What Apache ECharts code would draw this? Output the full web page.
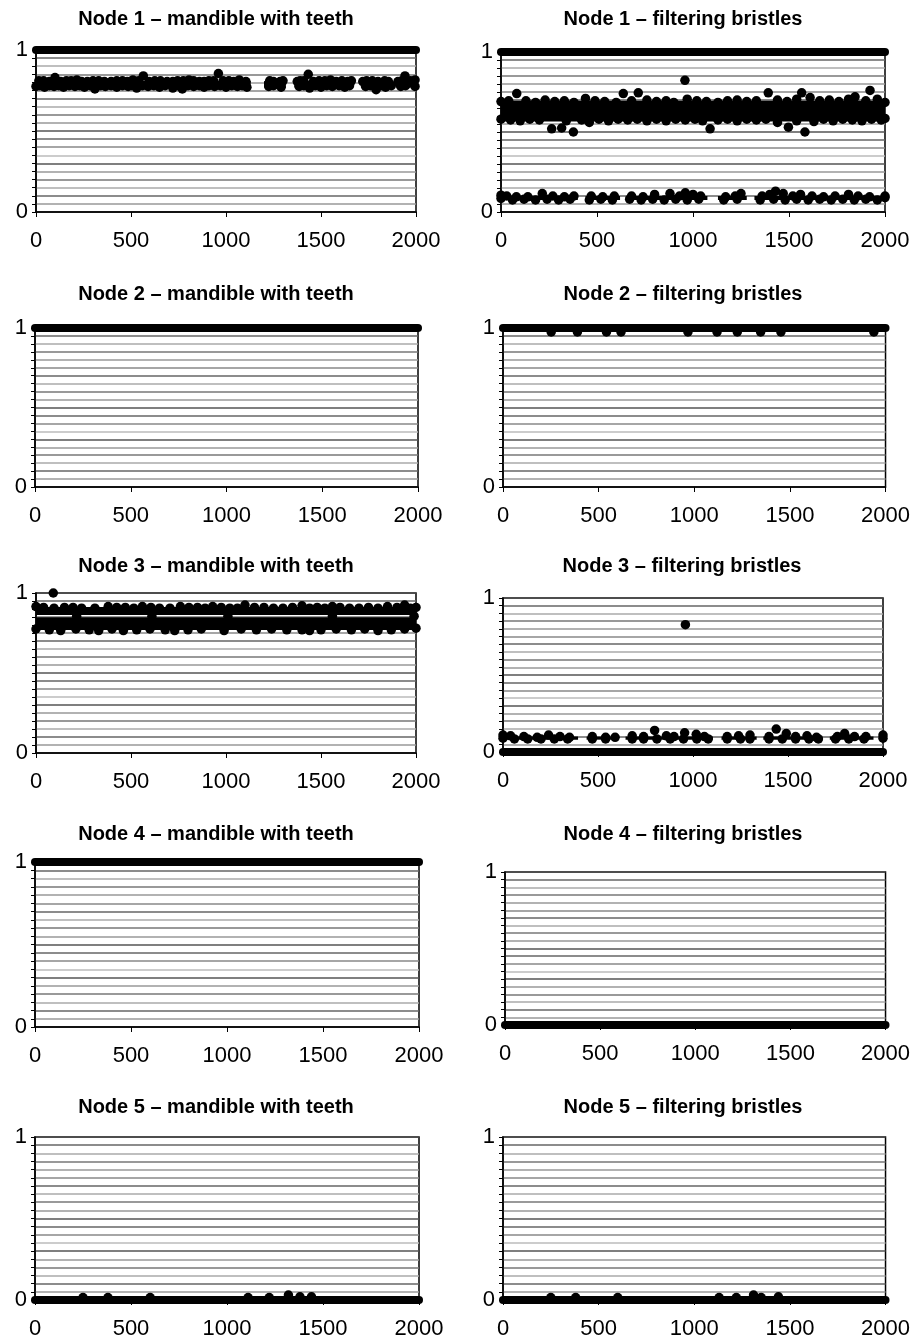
<!DOCTYPE html>
<html>
<head>
<meta charset="utf-8">
<title>Node charts</title>
<script src="https://cdn.jsdelivr.net/npm/echarts@6/dist/echarts.min.js"></script>
<style>
	html, body { margin: 0; padding: 0; background: #fff; }
	#nodeCharts { width: 913px; height: 1341px; }
</style>
</head>
<body>
<div id="nodeCharts"></div>
<script>
// 刻度
var xMin = 0, xMax = 2000, xStep = 500;
var yTickLabels = ['0', '1'];

// 标题
var titles = [
	'Node 1 – mandible with teeth', 'Node 1 – filtering bristles',
	'Node 2 – mandible with teeth', 'Node 2 – filtering bristles',
	'Node 3 – mandible with teeth', 'Node 3 – filtering bristles',
	'Node 4 – mandible with teeth', 'Node 4 – filtering bristles',
	'Node 5 – mandible with teeth', 'Node 5 – filtering bristles'
];

// rows: [xStart, xEnd, y] unbroken runs of points at one value
// bands: [xStart, xEnd, yLow, yHigh] solid cores of dense point clouds
// points: [x, y] single points / band fringes

// Node 1 – mandible with teeth
var n1MandRows = [[0, 2000, 1]];
var n1MandBands = [[0, 1130, 0.768, 0.808], [1200, 1315, 0.768, 0.808], [1360, 1665, 0.768, 0.808],
	[1710, 1860, 0.768, 0.808], [1895, 2000, 0.768, 0.808]];
var n1MandPoints = [
	[15, 0.81], [40, 0.81], [70, 0.805], [100, 0.83], [130, 0.805], [160, 0.81], [185, 0.81], [215, 0.815],
	[240, 0.805], [270, 0.805], [300, 0.81], [330, 0.81], [360, 0.805], [395, 0.805], [425, 0.81], [455, 0.81],
	[480, 0.805], [510, 0.815], [540, 0.81], [565, 0.84], [595, 0.805], [625, 0.81], [655, 0.81], [690, 0.805],
	[720, 0.805], [745, 0.81], [775, 0.81], [805, 0.815], [830, 0.81], [860, 0.805], [885, 0.805], [910, 0.81],
	[935, 0.81], [960, 0.855], [985, 0.81], [1015, 0.81], [1040, 0.805], [1070, 0.815], [1105, 0.805],
	[1230, 0.81], [1250, 0.805], [1285, 0.805], [1300, 0.81], [1375, 0.805], [1390, 0.81], [1410, 0.81],
	[1433, 0.85], [1460, 0.805], [1490, 0.81], [1520, 0.81], [1550, 0.815], [1580, 0.805], [1610, 0.81],
	[1640, 0.805], [1660, 0.81], [1720, 0.805], [1740, 0.81], [1770, 0.81], [1800, 0.805], [1835, 0.81],
	[1855, 0.805], [1905, 0.805], [1925, 0.81], [1942, 0.84], [1970, 0.81], [1995, 0.815],
	[0, 0.775], [20, 0.78], [45, 0.77], [70, 0.78], [95, 0.775], [120, 0.78], [145, 0.77], [175, 0.78],
	[205, 0.775], [230, 0.78], [255, 0.77], [285, 0.78], [310, 0.76], [340, 0.78], [365, 0.775], [395, 0.78],
	[425, 0.77], [455, 0.78], [485, 0.775], [505, 0.78], [530, 0.765], [560, 0.78], [590, 0.775], [620, 0.78],
	[650, 0.77], [680, 0.78], [720, 0.765], [745, 0.78], [770, 0.76], [800, 0.78], [830, 0.775], [860, 0.78],
	[885, 0.77], [910, 0.78], [940, 0.775], [970, 0.78], [1000, 0.77], [1030, 0.78], [1060, 0.775], [1085, 0.78],
	[1110, 0.77], [1225, 0.775], [1250, 0.78], [1290, 0.77], [1385, 0.775], [1410, 0.78], [1440, 0.765],
	[1470, 0.78], [1500, 0.77], [1530, 0.78], [1560, 0.775], [1595, 0.78], [1625, 0.77], [1650, 0.78],
	[1735, 0.775], [1760, 0.78], [1790, 0.755], [1815, 0.78], [1840, 0.77], [1870, 0.78], [1920, 0.775],
	[1945, 0.78], [1995, 0.775]
];

// Node 1 – filtering bristles
var n1BristRows = [[0, 2000, 1]];
var n1BristBands = [[0, 2000, 0.565, 0.695],
	[0, 400, 0.075, 0.1], [440, 620, 0.075, 0.1], [650, 1075, 0.075, 0.1], [1130, 1280, 0.075, 0.1], [1320, 2000, 0.075, 0.1]];
var n1BristPoints = [
	[0, 0.69], [40, 0.695], [82, 0.74], [130, 0.695], [180, 0.685], [230, 0.7], [280, 0.69], [330, 0.695],
	[380, 0.685], [440, 0.71], [490, 0.695], [540, 0.69], [600, 0.685], [637, 0.74], [680, 0.695], [715, 0.745],
	[760, 0.7], [810, 0.69], [860, 0.695], [900, 0.685], [958, 0.823], [970, 0.705], [1020, 0.695], [1070, 0.69],
	[1130, 0.685], [1180, 0.695], [1230, 0.7], [1280, 0.69], [1330, 0.695], [1392, 0.745], [1440, 0.7],
	[1490, 0.69], [1540, 0.705], [1566, 0.745], [1610, 0.715], [1660, 0.695], [1710, 0.7], [1760, 0.69],
	[1810, 0.705], [1844, 0.72], [1900, 0.695], [1922, 0.76], [1960, 0.705], [2000, 0.685],
	[0, 0.58], [50, 0.575], [100, 0.57], [150, 0.58], [200, 0.575], [264, 0.52], [316, 0.525], [340, 0.57],
	[377, 0.5], [420, 0.575], [460, 0.56], [510, 0.58], [560, 0.57], [610, 0.58], [660, 0.575], [710, 0.58],
	[760, 0.57], [810, 0.58], [860, 0.57], [910, 0.58], [960, 0.575], [1010, 0.58], [1050, 0.57], [1089, 0.52],
	[1130, 0.575], [1180, 0.58], [1230, 0.57], [1280, 0.58], [1330, 0.575], [1380, 0.58], [1440, 0.56],
	[1497, 0.53], [1540, 0.57], [1583, 0.5], [1630, 0.565], [1680, 0.58], [1730, 0.57], [1780, 0.58],
	[1830, 0.575], [1880, 0.57], [1930, 0.58], [1980, 0.575], [2000, 0.585],
	[0, 0.105], [30, 0.1], [80, 0.095], [140, 0.095], [215, 0.115], [270, 0.1], [330, 0.095], [380, 0.1],
	[470, 0.1], [530, 0.095], [590, 0.1], [680, 0.1], [740, 0.095], [800, 0.11], [880, 0.115], [930, 0.1],
	[960, 0.12], [1000, 0.11], [1040, 0.1], [1170, 0.095], [1220, 0.1], [1250, 0.115], [1360, 0.1],
	[1400, 0.11], [1430, 0.13], [1470, 0.115], [1520, 0.1], [1560, 0.11], [1620, 0.1], [1680, 0.095],
	[1740, 0.1], [1810, 0.11], [1860, 0.1], [1920, 0.095], [2000, 0.1],
	[0, 0.085], [60, 0.075], [120, 0.08], [180, 0.075], [240, 0.08], [300, 0.075], [360, 0.08], [460, 0.075],
	[520, 0.08], [580, 0.075], [670, 0.08], [730, 0.075], [790, 0.08], [850, 0.075], [910, 0.08], [970, 0.075],
	[1030, 0.08], [1160, 0.075], [1230, 0.08], [1350, 0.075], [1420, 0.08], [1480, 0.075], [1540, 0.08],
	[1600, 0.075], [1660, 0.08], [1720, 0.075], [1780, 0.08], [1840, 0.075], [1900, 0.08], [1960, 0.075], [2000, 0.09]
];

// Node 2
var n2MandRows = [[0, 2000, 1]];
var n2BristRows = [[0, 2000, 1]];
var n2BristPoints = [[252, 0.975], [389, 0.975], [541, 0.975], [617, 0.975], [967, 0.975], [1119, 0.975],
	[1225, 0.975], [1347, 0.975], [1453, 0.975], [1939, 0.975]];

// Node 3 – mandible with teeth
var n3MandBands = [[0, 2000, 0.862, 0.912], [0, 2000, 0.768, 0.848]];
var n3MandPoints = [
	[0, 0.915], [40, 0.91], [91, 1.0], [95, 0.905], [150, 0.91], [195, 0.91], [240, 0.905], [310, 0.905],
	[380, 0.915], [425, 0.91], [470, 0.91], [515, 0.905], [560, 0.915], [605, 0.91], [650, 0.905], [705, 0.905],
	[760, 0.915], [805, 0.91], [850, 0.91], [890, 0.905], [930, 0.915], [975, 0.91], [1020, 0.905], [1060, 0.905],
	[1100, 0.925], [1150, 0.91], [1200, 0.91], [1250, 0.905], [1300, 0.905], [1350, 0.91], [1400, 0.92],
	[1440, 0.905], [1480, 0.91], [1520, 0.905], [1560, 0.915], [1600, 0.91], [1650, 0.905], [1700, 0.905],
	[1750, 0.91], [1800, 0.905], [1850, 0.915], [1900, 0.91], [1940, 0.925], [1970, 0.905], [2000, 0.91],
	[214, 0.855], [610, 0.855], [1010, 0.855], [1560, 0.855], [1990, 0.855],
	[0, 0.775], [70, 0.77], [130, 0.765], [210, 0.775], [280, 0.77], [330, 0.765], [400, 0.775], [460, 0.765],
	[530, 0.77], [600, 0.775], [680, 0.77], [730, 0.765], [800, 0.77], [870, 0.775], [990, 0.765], [1080, 0.775],
	[1160, 0.77], [1240, 0.775], [1320, 0.77], [1400, 0.77], [1440, 0.765], [1500, 0.77], [1580, 0.775],
	[1660, 0.77], [1730, 0.775], [1800, 0.765], [1870, 0.77], [1940, 0.775], [2000, 0.78]
];

// Node 3 – filtering bristles
var n3BristRows = [[0, 2000, 0]];
var n3BristBands = [[0, 395, 0.08, 0.1], [440, 600, 0.08, 0.1], [645, 1105, 0.08, 0.1], [1150, 1335, 0.08, 0.1],
	[1370, 1680, 0.08, 0.1], [1720, 1950, 0.08, 0.1], [1985, 2000, 0.08, 0.1]];
var n3BristPoints = [
	[0, 0.11], [40, 0.105], [110, 0.1], [180, 0.095], [240, 0.11], [300, 0.1], [350, 0.095], [470, 0.1],
	[540, 0.095], [590, 0.095], [680, 0.105], [740, 0.1], [798, 0.14], [860, 0.105], [900, 0.1], [956, 0.125],
	[960, 0.827], [1017, 0.115], [1060, 0.1], [1180, 0.1], [1240, 0.105], [1300, 0.11], [1400, 0.1],
	[1438, 0.149], [1491, 0.12], [1540, 0.1], [1600, 0.105], [1650, 0.095], [1760, 0.1], [1798, 0.12],
	[1850, 0.1], [1910, 0.1], [2000, 0.11],
	[0, 0.09], [60, 0.085], [130, 0.085], [200, 0.085], [270, 0.085], [340, 0.085], [470, 0.085], [540, 0.085],
	[680, 0.085], [740, 0.085], [810, 0.085], [880, 0.085], [950, 0.085], [1020, 0.085], [1080, 0.085],
	[1180, 0.085], [1250, 0.085], [1300, 0.085], [1400, 0.085], [1470, 0.085], [1540, 0.085], [1610, 0.085],
	[1660, 0.085], [1750, 0.085], [1820, 0.085], [1900, 0.085], [2000, 0.09]
];

// Node 4
var n4MandRows = [[0, 2000, 1]];
var n4BristRows = [[0, 2000, 0]];

// Node 5
var n5MandRows = [[0, 2000, 0]];
var n5MandPoints = [[250, 0.015], [380, 0.015], [600, 0.015], [1110, 0.015], [1220, 0.015], [1320, 0.03],
	[1380, 0.02], [1440, 0.02]];
var n5BristRows = [[0, 2000, 0]];
var n5BristPoints = [[250, 0.015], [380, 0.015], [600, 0.015], [1130, 0.015], [1220, 0.015], [1310, 0.03],
	[1350, 0.015], [1440, 0.02]];

var nodeCharts = {
	font: "'Liberation Sans', Arial, sans-serif",
	dot: 9.5,    // 点的直径 px
	rowWidth: 8, // 连续点列的线宽 px
	// 每个小图的位置 (plot area) 和标题中心
	boxes: [
		{ left: 36, top: 50, width: 380, height: 162, tx: 216, ty: 20 },
		{ left: 501, top: 52, width: 384, height: 160, tx: 683, ty: 20 },
		{ left: 35, top: 328, width: 383, height: 159, tx: 216, ty: 295 },
		{ left: 503, top: 328, width: 383, height: 159, tx: 683, ty: 295 },
		{ left: 36, top: 593, width: 380, height: 160, tx: 216, ty: 567 },
		{ left: 503, top: 598, width: 380, height: 154, tx: 682, ty: 567 },
		{ left: 35, top: 862, width: 384, height: 165, tx: 216, ty: 835 },
		{ left: 505, top: 872, width: 381, height: 153, tx: 683, ty: 835 },
		{ left: 35, top: 1137, width: 384, height: 163, tx: 216, ty: 1108 },
		{ left: 503, top: 1137, width: 383, height: 163, tx: 683, ty: 1108 }
	],
	gridColors: ['#555', '#999', '#666', '#aaa', '#777', '#999', '#555', '#bbb', '#888', '#666', '#555',
		'#999', '#777', '#aaa', '#666', '#888', '#999', '#777', '#aaa', '#666', '#555'],

	panels: function() {
		return [
			{ rows: n1MandRows, bands: n1MandBands, points: n1MandPoints },
			{ rows: n1BristRows, bands: n1BristBands, points: n1BristPoints },
			{ rows: n2MandRows, bands: [], points: [] },
			{ rows: n2BristRows, bands: [], points: n2BristPoints },
			{ rows: [], bands: n3MandBands, points: n3MandPoints },
			{ rows: n3BristRows, bands: n3BristBands, points: n3BristPoints },
			{ rows: n4MandRows, bands: [], points: [] },
			{ rows: n4BristRows, bands: [], points: [] },
			{ rows: n5MandRows, bands: [], points: n5MandPoints },
			{ rows: n5BristRows, bands: [], points: n5BristPoints }
		];
	},

	// 连续点列: 粗线 + 两端圆点
	renderRow: function(params, api) {
		var p0 = api.coord([api.value(0), api.value(2)]);
		var p1 = api.coord([api.value(1), api.value(2)]);
		var w = nodeCharts.rowWidth;
		return {
			type: 'group',
			children: [
				{ type: 'line', shape: { x1: p0[0], y1: p0[1], x2: p1[0], y2: p1[1] }, style: { stroke: '#000', lineWidth: w } },
				{ type: 'circle', shape: { cx: p0[0], cy: p0[1], r: w / 2 }, style: { fill: '#000' } },
				{ type: 'circle', shape: { cx: p1[0], cy: p1[1], r: w / 2 }, style: { fill: '#000' } }
			]
		};
	},

	// 密集区: 实心矩形
	renderBand: function(params, api) {
		var p0 = api.coord([api.value(0), api.value(2)]);
		var p1 = api.coord([api.value(1), api.value(3)]);
		return {
			type: 'rect',
			shape: { x: p0[0], y: p1[1], width: p1[0] - p0[0], height: p0[1] - p1[1] },
			style: { fill: '#000' }
		};
	},

	build: function() {
		var self = this;
		var myChart = echarts.init(document.getElementById('nodeCharts'));
		var option = { animation: false, backgroundColor: '#fff', title: [], grid: [], xAxis: [], yAxis: [], series: [] };

		this.panels().forEach(function(p, i) {
			var b = self.boxes[i];
			option.title.push({
				text: titles[i],
				left: b.tx,
				top: b.ty - 11,
				textAlign: 'center',
				padding: 0,
				textStyle: { fontFamily: self.font, fontSize: 20, fontWeight: 'bold', color: '#000' }
			});
			option.grid.push({
				left: b.left, top: b.top, width: b.width, height: b.height,
				show: true, borderColor: '#000', borderWidth: 1.5
			});
			option.xAxis.push({
				gridIndex: i, type: 'value', min: xMin, max: xMax, interval: xStep,
				axisLine: { lineStyle: { color: '#000', width: 1.5 } },
				axisTick: { length: 5, lineStyle: { color: '#000' } },
				axisLabel: {
					fontFamily: self.font, fontSize: 22, color: '#000', margin: 18,
					formatter: function(v) { return String(v); } // 不要千位分隔符
				},
				splitLine: { show: false }
			});
			option.yAxis.push({
				gridIndex: i, type: 'value', min: 0, max: 1, interval: 0.05,
				axisLine: { show: true, lineStyle: { color: '#000', width: 1.5 } },
				axisTick: { show: true, length: 4, lineStyle: { color: '#000' } },
				axisLabel: {
					fontFamily: self.font, fontSize: 22, color: '#000', margin: 8,
					formatter: function(v) { // 只显示 0 和 1
						if (Math.abs(v) < 1e-9) return yTickLabels[0];
						if (Math.abs(v - 1) < 1e-9) return yTickLabels[1];
						return '';
					}
				},
				splitLine: { show: true, lineStyle: { color: self.gridColors, width: 1.5 } }
			});

			// 数据层放在网格线之上
			if (p.bands.length) {
				option.series.push({
					type: 'custom', xAxisIndex: i, yAxisIndex: i, silent: true, zlevel: 1, z: 3,
					renderItem: self.renderBand, data: p.bands
				});
			}
			if (p.points.length) {
				option.series.push({
					type: 'scatter', xAxisIndex: i, yAxisIndex: i, zlevel: 1,
					data: p.points, symbolSize: self.dot, clip: false, silent: true, z: 4,
					itemStyle: { color: '#000', opacity: 1 }
				});
			}
			if (p.rows.length) {
				option.series.push({
					type: 'custom', xAxisIndex: i, yAxisIndex: i, silent: true, zlevel: 1, z: 5,
					renderItem: self.renderRow, data: p.rows
				});
			}
		});

		myChart.setOption(option);
	}
};

nodeCharts.build();
</script>
</body>
</html>
